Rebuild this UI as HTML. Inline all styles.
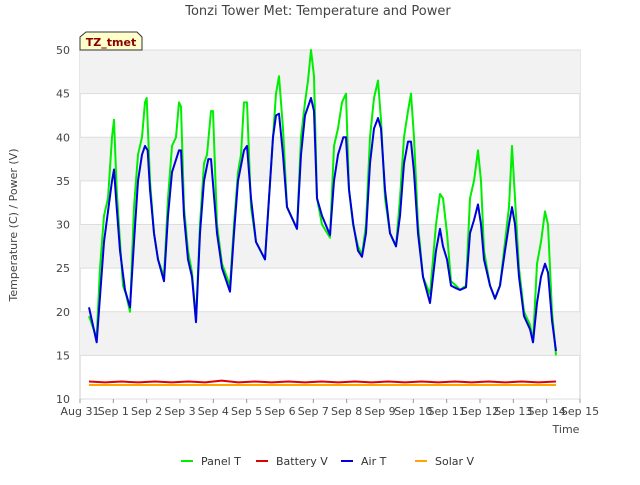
<!DOCTYPE html>
<html><head><meta charset="utf-8"><style>
body{margin:0;background:#fff;font-family:"Liberation Sans","DejaVu Sans",sans-serif;}
svg text{font-family:"DejaVu Sans","Liberation Sans",sans-serif;}
</style></head><body>
<svg id="c" width="640" height="480" xmlns="http://www.w3.org/2000/svg">
<rect width="640" height="480" fill="#fff"/>
<g id="bands"></g><g id="grid"></g>
<text x="318" y="15" text-anchor="middle" font-size="13" fill="#444">Tonzi Tower Met: Temperature and Power</text>
<text transform="translate(17,225) rotate(-90)" text-anchor="middle" font-size="11" fill="#444">Temperature (C) / Power (V)</text>
<text x="566" y="433" text-anchor="middle" font-size="11" fill="#444">Time</text>
<g id="ticks"></g><g id="series"></g>
<g><path d="M80,50 L80,37 L86,32 L137,32 L142,37 L142,50 Z" fill="#ffffcc" stroke="#333"/>
<text x="111" y="46" text-anchor="middle" font-size="11" font-weight="bold" fill="#8b0000">TZ_tmet</text></g>
<g id="legend"></g>
</svg>
<script>
const panelDays=[0.27,0.5,0.6,0.72,0.84,0.96,1.02,1.1,1.2,1.29,1.38,1.5,1.62,1.74,1.86,1.95,2.0,2.1,2.22,2.34,2.52,2.64,2.76,2.88,2.97,3.03,3.12,3.24,3.36,3.48,3.6,3.72,3.81,3.93,3.99,4.11,4.26,4.5,4.62,4.74,4.83,4.92,5.01,5.13,5.28,5.55,5.67,5.79,5.88,5.97,6.09,6.21,6.33,6.51,6.63,6.75,6.84,6.93,7.02,7.11,7.26,7.5,7.62,7.74,7.86,7.98,8.07,8.19,8.34,8.46,8.58,8.7,8.82,8.94,9.03,9.15,9.3,9.48,9.6,9.72,9.84,9.93,10.02,10.14,10.29,10.5,10.68,10.8,10.89,11.01,11.13,11.28,11.4,11.58,11.7,11.82,11.94,12.03,12.12,12.3,12.45,12.6,12.75,12.87,12.96,13.05,13.17,13.32,13.5,13.59,13.71,13.83,13.95,14.04,14.16,14.28];
const panelT=[19.5,17,25,31,33,40,42,34,28,23,22,20,32,38,40,44,44.5,35,29,26,24,33,39,40,44,43.5,32,27,24.5,19,30,37,38,43,43,30,25.5,23,30,36,38,44,44,32,28,26,33,40,45,47,41,32,31,29.5,40,44,46.5,50,47,33,30,28.5,39,41,44,45,34,30,27.5,26.5,30,40,44.5,46.5,42,33,29,27.5,33,40,43,45,40,30,24,22,30,33.5,33,29,23.5,23,22.5,23,33,35,38.5,35,27,23,21.5,23,28,32,39,33,25,20,18.5,16.5,25.5,28,31.5,30,20,15];
const airDays=[0.27,0.5,0.72,0.96,1.02,1.1,1.2,1.35,1.5,1.62,1.74,1.86,1.95,2.03,2.1,2.22,2.34,2.52,2.64,2.76,2.97,3.03,3.12,3.24,3.36,3.48,3.6,3.72,3.85,3.93,4.11,4.26,4.5,4.62,4.74,4.92,5.01,5.13,5.28,5.55,5.67,5.79,5.88,5.97,6.09,6.21,6.33,6.51,6.63,6.75,6.93,7.02,7.11,7.26,7.5,7.62,7.74,7.9,7.98,8.07,8.2,8.34,8.46,8.58,8.7,8.82,8.94,9.03,9.15,9.3,9.48,9.6,9.72,9.84,9.93,10.02,10.14,10.29,10.5,10.68,10.8,10.89,11.01,11.13,11.28,11.4,11.58,11.7,11.82,11.94,12.03,12.12,12.3,12.45,12.6,12.75,12.87,12.96,13.05,13.17,13.32,13.5,13.59,13.71,13.83,13.95,14.04,14.16,14.28];
const airT=[20.5,16.5,28,35,36.3,32,27,22.5,20.5,28,35,38,39,38.5,34,29,26,23.5,31,36,38.5,38.5,31,26,24,18.8,29,35,37.5,37.5,29,25,22.3,29,35,38.5,39,33,28,26,33,40,42.5,42.7,38,32,31,29.5,38,42.5,44.5,43,33,31,28.8,35,38,40,40,34,30,27,26.3,29,37,41,42.2,41,34,29,27.5,31,37,39.5,39.5,36,29,24,21,27,29.5,27.5,26,23,22.7,22.5,22.8,29,30.5,32.3,30,26,23,21.5,23,27,30,32,30,24,19.5,18,16.5,21,24,25.5,24.5,19,15.5];
const voltDays=[0.27,0.75,1.25,1.75,2.25,2.75,3.25,3.75,4.25,4.75,5.25,5.75,6.25,6.75,7.25,7.75,8.25,8.75,9.25,9.75,10.25,10.75,11.25,11.75,12.25,12.75,13.25,13.75,14.28];
const batteryV=[12.0,11.9,12.0,11.9,12.0,11.9,12.0,11.9,12.1,11.9,12.0,11.9,12.0,11.9,12.0,11.9,12.0,11.9,12.0,11.9,12.0,11.9,12.0,11.9,12.0,11.9,12.0,11.9,12.0];
const solarV=[11.6,11.6,11.6,11.6,11.6,11.6,11.6,11.6,11.6,11.6,11.6,11.6,11.6,11.6,11.6,11.6,11.6,11.6,11.6,11.6,11.6,11.6,11.6,11.6,11.6,11.6,11.6,11.6,11.6];
const yTicks=[10,15,20,25,30,35,40,45,50];
const xTickLabels=["Aug 31","Sep 1","Sep 2","Sep 3","Sep 4","Sep 5","Sep 6","Sep 7","Sep 8","Sep 9","Sep 10","Sep 11","Sep 12","Sep 13","Sep 14","Sep 15"];
const X0=80,X1=580,Y0=399,Y1=50;
const xs=d=>X0+(X1-X0)*d/15, ys=v=>Y0-(Y0-Y1)*(v-10)/40;
const NS="http://www.w3.org/2000/svg";
function mk(t,a,p){const e=document.createElementNS(NS,t);for(const k in a)e.setAttribute(k,a[k]);p.appendChild(e);return e;}
const bands=document.getElementById('bands'),grid=document.getElementById('grid'),ticks=document.getElementById('ticks');
mk('rect',{x:X0,y:Y1,width:X1-X0,height:Y0-Y1,fill:'#fff',stroke:'#ccc'},bands);
for(let i=0;i<yTicks.length-1;i++){ if(i%2===1){const r=mk('rect',{x:X0,y:ys(yTicks[i+1]),width:X1-X0,height:ys(yTicks[i])-ys(yTicks[i+1]),fill:'#f2f2f2'},bands);

}}
yTicks.forEach(v=>{const l=mk('line',{x1:X0,x2:X1,y1:ys(v),y2:ys(v),stroke:'#ddd'},grid);


const t=mk('text',{x:X0-10,y:ys(v)+4,'text-anchor':'end','font-size':'11',fill:'#444'},ticks);t.textContent=v;

});
xTickLabels.forEach((s,i)=>{const t=mk('text',{x:xs(i),y:415,'text-anchor':'middle','font-size':'11',fill:'#444'},ticks);t.textContent=s;


mk('line',{x1:xs(i),x2:xs(i),y1:Y0,y2:Y0+4,stroke:'#999'},ticks);});
const ser=document.getElementById('series');
function line(days,vals,col,name){const p=mk('polyline',{points:days.map((d,i)=>xs(d)+','+ys(vals[i])).join(' '),fill:'none',stroke:col,'stroke-width':2,'stroke-linejoin':'round'},ser);

}
line(voltDays,solarV,'#ffa500','solar-v-line');
line(voltDays,batteryV,'#e00000','battery-v-line');
line(panelDays,panelT,'#00ee00','panel-t-line');
line(airDays,airT,'#0000dd','air-t-line');
const lg=document.getElementById('legend');
[["Panel T","#00ee00",181],["Battery V","#e00000",256],["Air T","#0000dd",341],["Solar V","#ffa500",415]].forEach(([n,c,x])=>{
const g=mk('g',{},lg);


mk('line',{x1:x,x2:x+12,y1:461,y2:461,stroke:c,'stroke-width':2},g);
const t=mk('text',{x:x+20,y:465,'font-size':'11',fill:'#333'},g);t.textContent=n;});
</script>
</body></html>
